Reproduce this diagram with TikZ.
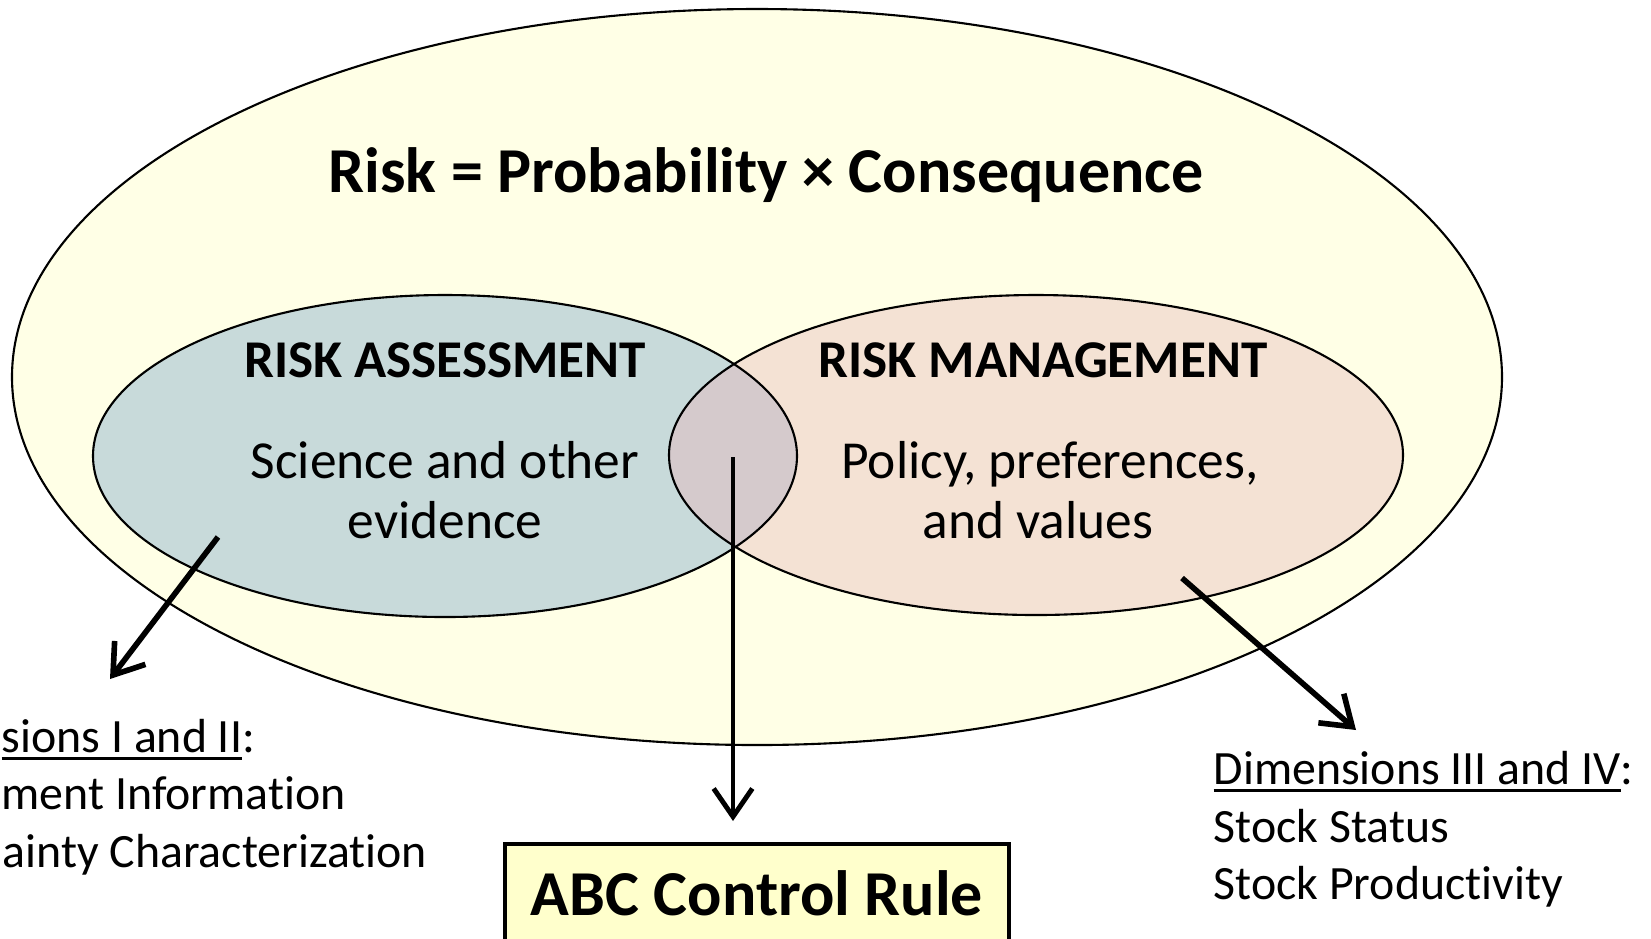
\documentclass[tikz,border=0pt]{standalone}
\usepackage{fontspec}
\setmainfont{Carlito}[Ligatures=NoCommon]
\usetikzlibrary{arrows.meta}
\definecolor{riskbg}{HTML}{FFFFE6}
\definecolor{assessbg}{HTML}{C8DADA}
\definecolor{managebg}{HTML}{F4E2D4}
\definecolor{overlapbg}{HTML}{D5CACC}
\definecolor{rulebg}{HTML}{FFFFCC}
\newcommand\dimline[1]{\setbox0=\hbox{#1}\rlap{\rule[-0.17em]{\wd0}{0.07em}}\box0}
\begin{document}
\begin{tikzpicture}[x=0.01cm,y=-0.01cm,
    txt/.style={inner sep=0pt,anchor=base},
    bigbold/.style={font=\fontsize{18.2}{22}\selectfont\bfseries},
    head/.style={font=\fontsize{15.1}{18}\selectfont\bfseries},
    body/.style={font=\fontsize{15.2}{18}\selectfont},
    dimtxt/.style={font=\fontsize{13.6}{16}\selectfont,inner sep=0pt},
    outline/.style={line width=0.6pt},
    pointer/.style={line width=1.6pt,-{Straight Barb[length=8pt,width=11pt]}}]
		\clip (0,0) rectangle (1651,938);
		\fill[white] (0,0) rectangle (1651,938);
		\draw[outline,fill=riskbg] (757,377) ellipse [x radius=745,y radius=368];
		\fill[assessbg] (445,456) ellipse [x radius=352,y radius=161];
		\fill[managebg] (1036,455) ellipse [x radius=367,y radius=160];
		\begin{scope}
			\clip (445,456) ellipse [x radius=352,y radius=161];
			\fill[overlapbg] (1036,455) ellipse [x radius=367,y radius=160];
		\end{scope}
		\draw[outline] (445,456) ellipse [x radius=352,y radius=161];
		\draw[outline] (1036,455) ellipse [x radius=367,y radius=160];

		\node[txt,bigbold] (formula) at (766,192) {Risk = Probability × Consequence};
		\node[txt,head] (assess) at (445,377) {RISK ASSESSMENT};
		\node[txt,body] (science) at (445,478) {Science and other};
		\node[txt,body] (evidence) at (445,538) {evidence};
		\node[txt,head] (manage) at (1043,377) {RISK MANAGEMENT};
		\node[txt,body] (policy) at (1050,478) {Policy, preferences,};
		\node[txt,body] (values) at (1038,538) {and values};

		\node[dimtxt,anchor=base west] (dimlow) at (1,752) {\dimline{sions I and II}:};
		\node[dimtxt,anchor=base west] (assessinfo) at (1,809) {ment Information};
		\node[dimtxt,anchor=base west] (uncert) at (2,867) {ainty Characterization};
		\node[dimtxt,anchor=base west] (dimhigh) at (1213,784) {\dimline{Dimensions III and IV}:};
		\node[dimtxt,anchor=base west] (status) at (1213,842) {Stock Status};
		\node[dimtxt,anchor=base west] (product) at (1213,899) {Stock Productivity};

		\node[draw,fill=rulebg,line width=1pt,minimum width=5.04cm,minimum height=0.98cm,anchor=north,bigbold] (abc) at (757,842) {ABC Control Rule};

		\coordinate (assessout) at (218,537);
		\coordinate (lowtip) at (110,679);
		\coordinate (overlapout) at (733,457);
		\coordinate (manageout) at (1182,578);
		\coordinate (hightip) at (1356,730);
		\draw[pointer] (assessout) -- (lowtip);
		\draw[pointer,line width=1.4pt,shorten >=0.21cm] (overlapout) -- (overlapout |- abc.north);
		\draw[pointer] (manageout) -- (hightip);
	\end{tikzpicture}
\end{document}
